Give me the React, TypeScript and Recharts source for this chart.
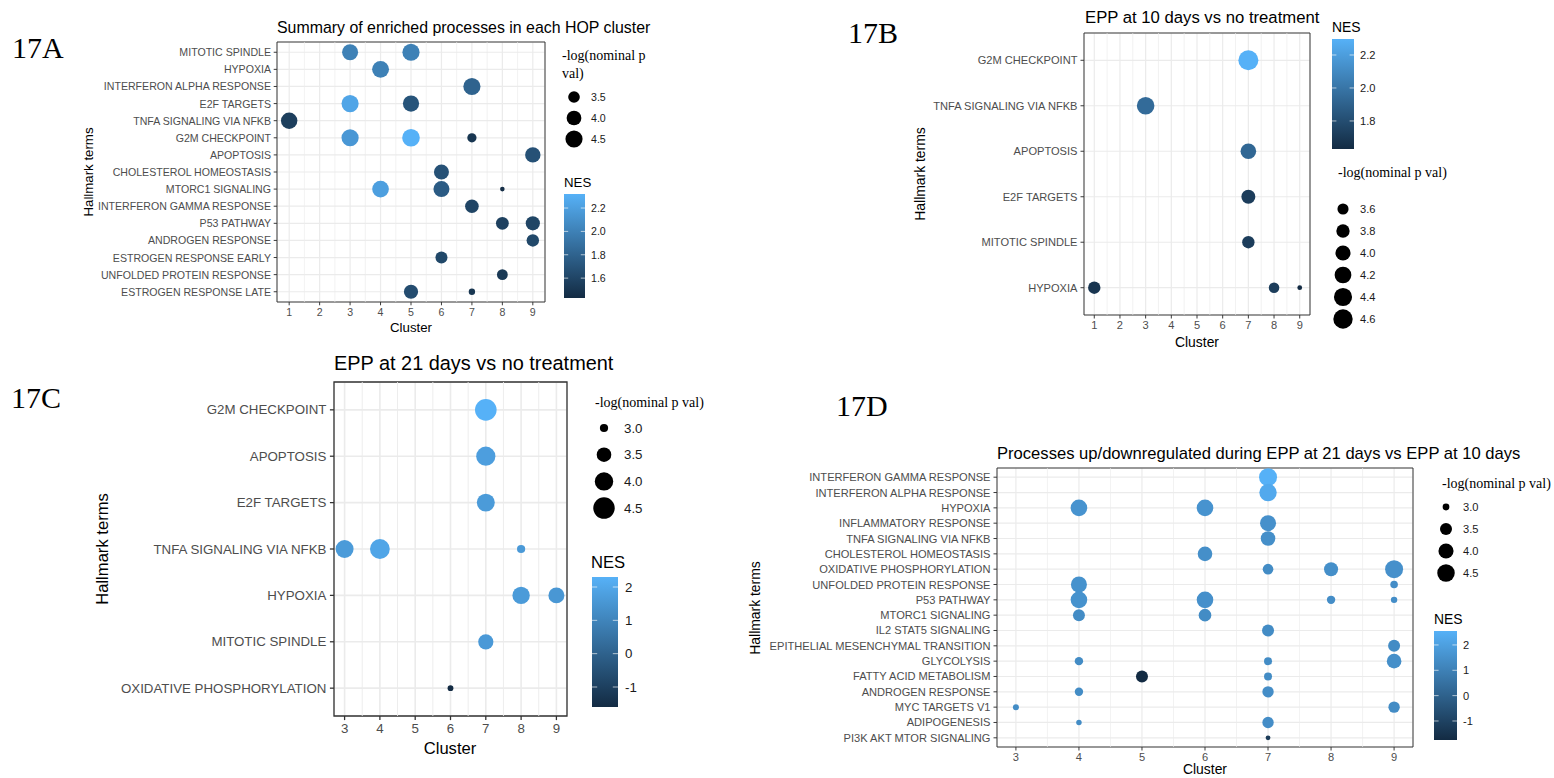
import { ScatterChart, Scatter, XAxis, YAxis, CartesianGrid, ReferenceLine, ReferenceArea } from 'recharts';

const SANS = '"Liberation Sans", Arial, sans-serif';
const SERIF = '"Liberation Serif", "Times New Roman", serif';

// [term, cluster, NES, -log(nominal p val)]
type Pt = [string, number, number, number];

// ---- 17A
const aTerms = ['MITOTIC SPINDLE', 'HYPOXIA', 'INTERFERON ALPHA RESPONSE', 'E2F TARGETS', 'TNFA SIGNALING VIA NFKB', 'G2M CHECKPOINT', 'APOPTOSIS', 'CHOLESTEROL HOMEOSTASIS', 'MTORC1 SIGNALING', 'INTERFERON GAMMA RESPONSE', 'P53 PATHWAY', 'ANDROGEN RESPONSE', 'ESTROGEN RESPONSE EARLY', 'UNFOLDED PROTEIN RESPONSE', 'ESTROGEN RESPONSE LATE'];
const aPoints: Pt[] = [
  ['MITOTIC SPINDLE', 3, 2.0, 4.25], ['MITOTIC SPINDLE', 5, 2.0, 4.5],
  ['HYPOXIA', 4, 2.0, 4.45],
  ['INTERFERON ALPHA RESPONSE', 7, 1.8, 4.5],
  ['E2F TARGETS', 3, 2.24, 4.5], ['E2F TARGETS', 5, 1.7, 4.3],
  ['TNFA SIGNALING VIA NFKB', 1, 1.56, 4.34],
  ['G2M CHECKPOINT', 3, 2.15, 4.5], ['G2M CHECKPOINT', 5, 2.32, 4.62], ['G2M CHECKPOINT', 7, 1.5, 3.21],
  ['APOPTOSIS', 9, 1.68, 4.13],
  ['CHOLESTEROL HOMEOSTASIS', 6, 1.68, 4.05],
  ['MTORC1 SIGNALING', 4, 2.2, 4.4], ['MTORC1 SIGNALING', 6, 1.75, 4.25], ['MTORC1 SIGNALING', 8, 1.45, 2.92],
  ['INTERFERON GAMMA RESPONSE', 7, 1.6, 3.8],
  ['P53 PATHWAY', 8, 1.57, 3.67], ['P53 PATHWAY', 9, 1.6, 3.9],
  ['ANDROGEN RESPONSE', 9, 1.62, 3.62],
  ['ESTROGEN RESPONSE EARLY', 6, 1.62, 3.55],
  ['UNFOLDED PROTEIN RESPONSE', 8, 1.52, 3.39],
  ['ESTROGEN RESPONSE LATE', 5, 1.65, 3.9], ['ESTROGEN RESPONSE LATE', 7, 1.5, 2.99],
];
const aSizeBreaks = [3.5, 4.0, 4.5];
const aNesBreaks = [1.6, 1.8, 2.0, 2.2];

// ---- 17B
const bTerms = ['G2M CHECKPOINT', 'TNFA SIGNALING VIA NFKB', 'APOPTOSIS', 'E2F TARGETS', 'MITOTIC SPINDLE', 'HYPOXIA'];
const bPoints: Pt[] = [
  ['G2M CHECKPOINT', 7, 2.297, 4.7],
  ['TNFA SIGNALING VIA NFKB', 3, 1.95, 4.32],
  ['APOPTOSIS', 7, 1.93, 4.06],
  ['E2F TARGETS', 7, 1.72, 3.87],
  ['MITOTIC SPINDLE', 7, 1.72, 3.71],
  ['HYPOXIA', 1, 1.68, 3.71], ['HYPOXIA', 8, 1.72, 3.56], ['HYPOXIA', 9, 1.63, 3.31],
];
const bSizeBreaks = [3.6, 3.8, 4.0, 4.2, 4.4, 4.6];
const bNesBreaks = [1.8, 2.0, 2.2];

// ---- 17C
const cTerms = ['G2M CHECKPOINT', 'APOPTOSIS', 'E2F TARGETS', 'TNFA SIGNALING VIA NFKB', 'HYPOXIA', 'MITOTIC SPINDLE', 'OXIDATIVE PHOSPHORYLATION'];
const cPoints: Pt[] = [
  ['G2M CHECKPOINT', 7, 2.3, 4.53],
  ['APOPTOSIS', 7, 1.75, 4.12],
  ['E2F TARGETS', 7, 1.65, 3.93],
  ['TNFA SIGNALING VIA NFKB', 3, 1.65, 3.93], ['TNFA SIGNALING VIA NFKB', 4, 1.95, 4.21], ['TNFA SIGNALING VIA NFKB', 8, 1.6, 3.0],
  ['HYPOXIA', 8, 1.65, 3.85], ['HYPOXIA', 9, 1.55, 3.66],
  ['MITOTIC SPINDLE', 7, 1.6, 3.57],
  ['OXIDATIVE PHOSPHORYLATION', 6, -1.6, 2.92],
];
const cSizeBreaks = [3.0, 3.5, 4.0, 4.5];
const cNesBreaks = [-1, 0, 1, 2];

// ---- 17D
const dTerms = ['INTERFERON GAMMA RESPONSE', 'INTERFERON ALPHA RESPONSE', 'HYPOXIA', 'INFLAMMATORY RESPONSE', 'TNFA SIGNALING VIA NFKB', 'CHOLESTEROL HOMEOSTASIS', 'OXIDATIVE PHOSPHORYLATION', 'UNFOLDED PROTEIN RESPONSE', 'P53 PATHWAY', 'MTORC1 SIGNALING', 'IL2 STAT5 SIGNALING', 'EPITHELIAL MESENCHYMAL TRANSITION', 'GLYCOLYSIS', 'FATTY ACID METABOLISM', 'ANDROGEN RESPONSE', 'MYC TARGETS V1', 'ADIPOGENESIS', 'PI3K AKT MTOR SIGNALING'];
const dPoints: Pt[] = [
  ['INTERFERON GAMMA RESPONSE', 7, 2.55, 4.61],
  ['INTERFERON ALPHA RESPONSE', 7, 2.3, 4.47],
  ['HYPOXIA', 4, 1.6, 4.3], ['HYPOXIA', 6, 1.6, 4.3],
  ['INFLAMMATORY RESPONSE', 7, 1.5, 4.18],
  ['TNFA SIGNALING VIA NFKB', 7, 1.45, 3.91],
  ['CHOLESTEROL HOMEOSTASIS', 6, 1.45, 3.91],
  ['OXIDATIVE PHOSPHORYLATION', 7, 1.35, 3.33], ['OXIDATIVE PHOSPHORYLATION', 8, 1.45, 3.81], ['OXIDATIVE PHOSPHORYLATION', 9, 1.5, 4.61],
  ['UNFOLDED PROTEIN RESPONSE', 4, 1.55, 4.18], ['UNFOLDED PROTEIN RESPONSE', 9, 1.4, 3.05],
  ['P53 PATHWAY', 4, 1.55, 4.3], ['P53 PATHWAY', 6, 1.5, 4.3], ['P53 PATHWAY', 8, 1.4, 3.11], ['P53 PATHWAY', 9, 1.4, 2.98],
  ['MTORC1 SIGNALING', 4, 1.35, 3.5], ['MTORC1 SIGNALING', 6, 1.35, 3.59],
  ['IL2 STAT5 SIGNALING', 7, 1.35, 3.5],
  ['EPITHELIAL MESENCHYMAL TRANSITION', 9, 1.35, 3.5],
  ['GLYCOLYSIS', 4, 1.35, 3.11], ['GLYCOLYSIS', 7, 1.35, 3.08], ['GLYCOLYSIS', 9, 1.45, 3.91],
  ['FATTY ACID METABOLISM', 5, -1.75, 3.5], ['FATTY ACID METABOLISM', 7, 1.35, 3.08],
  ['ANDROGEN RESPONSE', 4, 1.35, 3.11], ['ANDROGEN RESPONSE', 7, 1.4, 3.42],
  ['MYC TARGETS V1', 3, 1.35, 2.96], ['MYC TARGETS V1', 9, 1.35, 3.42],
  ['ADIPOGENESIS', 4, 1.35, 2.94], ['ADIPOGENESIS', 7, 1.4, 3.42],
  ['PI3K AKT MTOR SIGNALING', 7, -1.25, 2.92],
];
const dSizeBreaks = [3.0, 3.5, 4.0, 4.5];
const dNesBreaks = [-1, 0, 1, 2];

const clustersAB = [1, 2, 3, 4, 5, 6, 7, 8, 9];
const clustersCD = [3, 4, 5, 6, 7, 8, 9];

// ggplot's default continuous colour scale
const LOW = [0x13, 0x2b, 0x43];
const HIGH = [0x56, 0xb1, 0xf7];
function nesColor(v: number, lo: number, hi: number) {
  const t = Math.max(0, Math.min(1, (v - lo) / (hi - lo)));
  const c = LOW.map((l, i) => Math.round(l + (HIGH[i] - l) * t));
  return `rgb(${c[0]},${c[1]},${c[2]})`;
}

interface SizeScale { pmin: number; pmax: number; rmin: number; rmax: number; }
function radius(p: number, s: SizeScale) {
  const t = Math.max(0, Math.min(1, (p - s.pmin) / (s.pmax - s.pmin)));
  return s.rmin + (s.rmax - s.rmin) * Math.sqrt(t);
}

interface Cfg {
  terms: string[]; points: Pt[]; xTicks: number[]; xDomain: [number, number];
  box: { l: number; t: number; r: number; b: number };
  font: number; tickLen: number; tickGap: number; line: number;
  nes: [number, number]; size: SizeScale;
}

const cfgA: Cfg = { terms: aTerms, points: aPoints, xTicks: clustersAB, xDomain: [0.6, 9.4], box: { l: 277, t: 42, r: 545, b: 302 }, font: 10.6, tickLen: 3.3, tickGap: 2.7, line: 1.2, nes: [1.43, 2.32], size: { pmin: 2.9, pmax: 4.7, rmin: 1.5, rmax: 9 } };
const cfgB: Cfg = { terms: bTerms, points: bPoints, xTicks: clustersAB, xDomain: [0.6, 9.4], box: { l: 1084, t: 33, r: 1310, b: 315 }, font: 11.1, tickLen: 3.5, tickGap: 3, line: 1.2, nes: [1.63, 2.297], size: { pmin: 3.3, pmax: 4.7, rmin: 1.7, rmax: 10 } };
const cfgC: Cfg = { terms: cTerms, points: cPoints, xTicks: clustersCD, xDomain: [2.7, 9.3], box: { l: 334, t: 382, r: 567, b: 716 }, font: 13.3, tickLen: 4.1, tickGap: 3.5, line: 1.6, nes: [-1.6, 2.3], size: { pmin: 2.9, pmax: 4.6, rmin: 1.9, rmax: 11 } };
const cfgD: Cfg = { terms: dTerms, points: dPoints, xTicks: clustersCD, xDomain: [2.7, 9.3], box: { l: 997, t: 468, r: 1413, b: 747 }, font: 11.1, tickLen: 3.5, tickGap: 3, line: 1.2, nes: [-1.75, 2.55], size: { pmin: 2.9, pmax: 4.7, rmin: 1.6, rmax: 9.2 } };

function Panel({ c }: { c: Cfg }) {
  const n = c.terms.length;
  const data = c.points.map(([term, x, nes, p]) => ({ x, y: n - c.terms.indexOf(term), nes, p }));
  const yw = 260, xh = 40, mt = 12, mr = 12;
  const w = c.box.r - c.box.l + yw + mr;
  const h = c.box.b - c.box.t + mt + xh;
  const minors = c.xTicks.slice(1).map((t, i) => (t + c.xTicks[i]) / 2);
  const yTicks = c.terms.map((_, i) => i + 1);
  const xTick = (p: any) => (
    <text x={p.x} y={p.y} dy="0.71em" textAnchor="middle" fill="#4D4D4D" fontSize={c.font} fontFamily={SANS}>{p.payload.value}</text>
  );
  const yTick = (p: any) => (
    <text x={p.x} y={p.y} textAnchor="end" dominantBaseline="central" fill="#4D4D4D" fontSize={c.font} fontFamily={SANS}>{c.terms[n - p.payload.value]}</text>
  );
  return (
    <div style={{ position: 'absolute', left: c.box.l - yw, top: c.box.t - mt }}>
      <ScatterChart width={w} height={h} margin={{ top: mt, right: mr, bottom: 0, left: 0 }}>
        <CartesianGrid stroke="#EBEBEB" strokeWidth={c.line} fill="none" />
        {minors.map(m => (
          <ReferenceLine key={m} x={m} stroke="#EBEBEB" strokeWidth={c.line * 0.55} />
        ))}
        <XAxis type="number" dataKey="x" domain={c.xDomain} ticks={c.xTicks} allowDataOverflow interval={0}
          height={xh} axisLine={false} tickSize={c.tickLen} tickMargin={c.tickGap}
          tickLine={{ stroke: '#333333', strokeWidth: c.line * 0.8 }} tick={xTick} />
        <YAxis type="number" dataKey="y" domain={[0.4, n + 0.6]} ticks={yTicks} allowDataOverflow interval={0}
          width={yw} axisLine={false} tickSize={c.tickLen} tickMargin={c.tickGap}
          tickLine={{ stroke: '#333333', strokeWidth: c.line * 0.8 }} tick={yTick} />
        <ReferenceArea x1={c.xDomain[0]} x2={c.xDomain[1]} y1={0.4} y2={n + 0.6}
          fill="none" stroke="#333333" strokeWidth={c.line * 0.8} />
        <Scatter data={data} isAnimationActive={false}
          shape={(p: any) => (
            <circle cx={p.cx} cy={p.cy} r={radius(p.payload.p, c.size)} fill={nesColor(p.payload.nes, c.nes[0], c.nes[1])} />
          )} />
      </ScatterChart>
    </div>
  );
}

function SizeLegend({ lines, tx, ty, cx, y0, step, lx, breaks, c }: { lines: string[]; tx: number; ty: number; cx: number; y0: number; step: number; lx: number; breaks: number[]; c: Cfg }) {
  return (
    <g>
      {lines.map((l, i) => (
        <text key={l} x={tx} y={ty + i * 18} fontFamily={SERIF} fontSize={14} dominantBaseline="central" fill="#000">{l}</text>
      ))}
      {breaks.map((b, i) => (
        <g key={b}>
          <circle cx={cx} cy={y0 + i * step} r={radius(b, c.size)} fill="#000" />
          <text x={lx} y={y0 + i * step} fontFamily={SANS} fontSize={c.font} dominantBaseline="central" fill="#1A1A1A">{b.toFixed(1)}</text>
        </g>
      ))}
    </g>
  );
}

function NesLegend({ id, tx, ty, tf, x, y, w, h, lx, breaks, c, digits }: { id: string; tx: number; ty: number; tf: number; x: number; y: number; w: number; h: number; lx: number; breaks: number[]; c: Cfg; digits: number }) {
  const [lo, hi] = c.nes;
  const yOf = (v: number) => y + ((hi - v) / (hi - lo)) * h;
  return (
    <g>
      <defs>
        <linearGradient id={id} x1="0" y1="0" x2="0" y2="1">
          <stop offset="0" stopColor={nesColor(hi, lo, hi)} />
          <stop offset="1" stopColor={nesColor(lo, lo, hi)} />
        </linearGradient>
      </defs>
      <text x={tx} y={ty} fontFamily={SANS} fontSize={tf} dominantBaseline="central" fill="#000">NES</text>
      <rect x={x} y={y} width={w} height={h} fill={`url(#${id})`} />
      {breaks.map(b => (
        <g key={b}>
          <line x1={x} x2={x + w / 5} y1={yOf(b)} y2={yOf(b)} stroke="#fff" strokeWidth={0.8} opacity={0.8} />
          <line x1={x + w - w / 5} x2={x + w} y1={yOf(b)} y2={yOf(b)} stroke="#fff" strokeWidth={0.8} opacity={0.8} />
          <text x={lx} y={yOf(b)} fontFamily={SANS} fontSize={c.font} dominantBaseline="central" fill="#1A1A1A">{b.toFixed(digits)}</text>
        </g>
      ))}
    </g>
  );
}

function Titles() {
  const lab = (t: string, x: number, y: number) => (
    <text x={x} y={y} fontFamily={SERIF} fontSize={30} dominantBaseline="central" fill="#000">{t}</text>
  );
  const title = (t: string, x: number, y: number, f: number) => (
    <text x={x} y={y} fontFamily={SANS} fontSize={f} dominantBaseline="central" fill="#000">{t}</text>
  );
  const xlab = (x: number, y: number, f: number) => (
    <text x={x} y={y} fontFamily={SANS} fontSize={f} textAnchor="middle" dominantBaseline="central" fill="#000">Cluster</text>
  );
  const ylab = (x: number, y: number, f: number) => (
    <text x={x} y={y} fontFamily={SANS} fontSize={f} textAnchor="middle" dominantBaseline="central" fill="#000"
      transform={`rotate(-90 ${x} ${y})`}>Hallmark terms</text>
  );
  return (
    <g>
      {lab('17A', 12, 47)}
      {lab('17B', 848, 32)}
      {lab('17C', 11, 397)}
      {lab('17D', 836, 405)}
      {title('Summary of enriched processes in each HOP cluster', 277, 27, 15.9)}
      {title('EPP at 10 days vs no treatment', 1085, 17, 16.7)}
      {title('EPP at 21 days vs no treatment', 334, 363, 19.9)}
      {title('Processes up/downregulated during EPP at 21 days vs EPP at 10 days', 997, 453, 16.6)}
      {xlab(411, 327, 13.25)}
      {xlab(1197, 342, 13.9)}
      {xlab(450, 748, 16.6)}
      {xlab(1205, 769, 13.9)}
      {ylab(88, 172, 13.25)}
      {ylab(920, 174, 13.9)}
      {ylab(102, 549, 16.6)}
      {ylab(755, 608, 13.9)}
    </g>
  );
}

export default function App() {
  return (
    <div style={{ position: 'absolute', left: 0, top: 0, width: 1554, height: 778, background: '#fff', overflow: 'hidden' }}>
      <Panel c={cfgA} />
      <Panel c={cfgB} />
      <Panel c={cfgC} />
      <Panel c={cfgD} />
      <svg width={1554} height={778} style={{ position: 'absolute', left: 0, top: 0, pointerEvents: 'none' }}>
        <Titles />
        <SizeLegend lines={['-log(nominal p', 'val)']} tx={562} ty={55} cx={574} y0={97} step={21} lx={591} breaks={aSizeBreaks} c={cfgA} />
        <NesLegend id="gA" tx={564} ty={182} tf={13.25} x={564} y={194} w={21} h={104} lx={591} breaks={aNesBreaks} c={cfgA} digits={1} />
        <NesLegend id="gB" tx={1332} ty={27} tf={13.9} x={1332} y={39} w={22} h={110} lx={1360} breaks={bNesBreaks} c={cfgB} digits={1} />
        <SizeLegend lines={['-log(nominal p val)']} tx={1338} ty={172} cx={1343} y0={209} step={22} lx={1360} breaks={bSizeBreaks} c={cfgB} />
        <SizeLegend lines={['-log(nominal p val)']} tx={595} ty={402} cx={604} y0={428} step={26.7} lx={624} breaks={cSizeBreaks} c={cfgC} />
        <NesLegend id="gC" tx={591} ty={562} tf={16.6} x={592} y={577} w={26} h={130} lx={625} breaks={cNesBreaks} c={cfgC} digits={0} />
        <SizeLegend lines={['-log(nominal p val)']} tx={1442} ty={483} cx={1446} y0={507} step={22} lx={1463} breaks={dSizeBreaks} c={cfgD} />
        <NesLegend id="gD" tx={1434} ty={619} tf={13.9} x={1434} y={631} w={23} h={109} lx={1463} breaks={dNesBreaks} c={cfgD} digits={0} />
      </svg>
    </div>
  );
}
